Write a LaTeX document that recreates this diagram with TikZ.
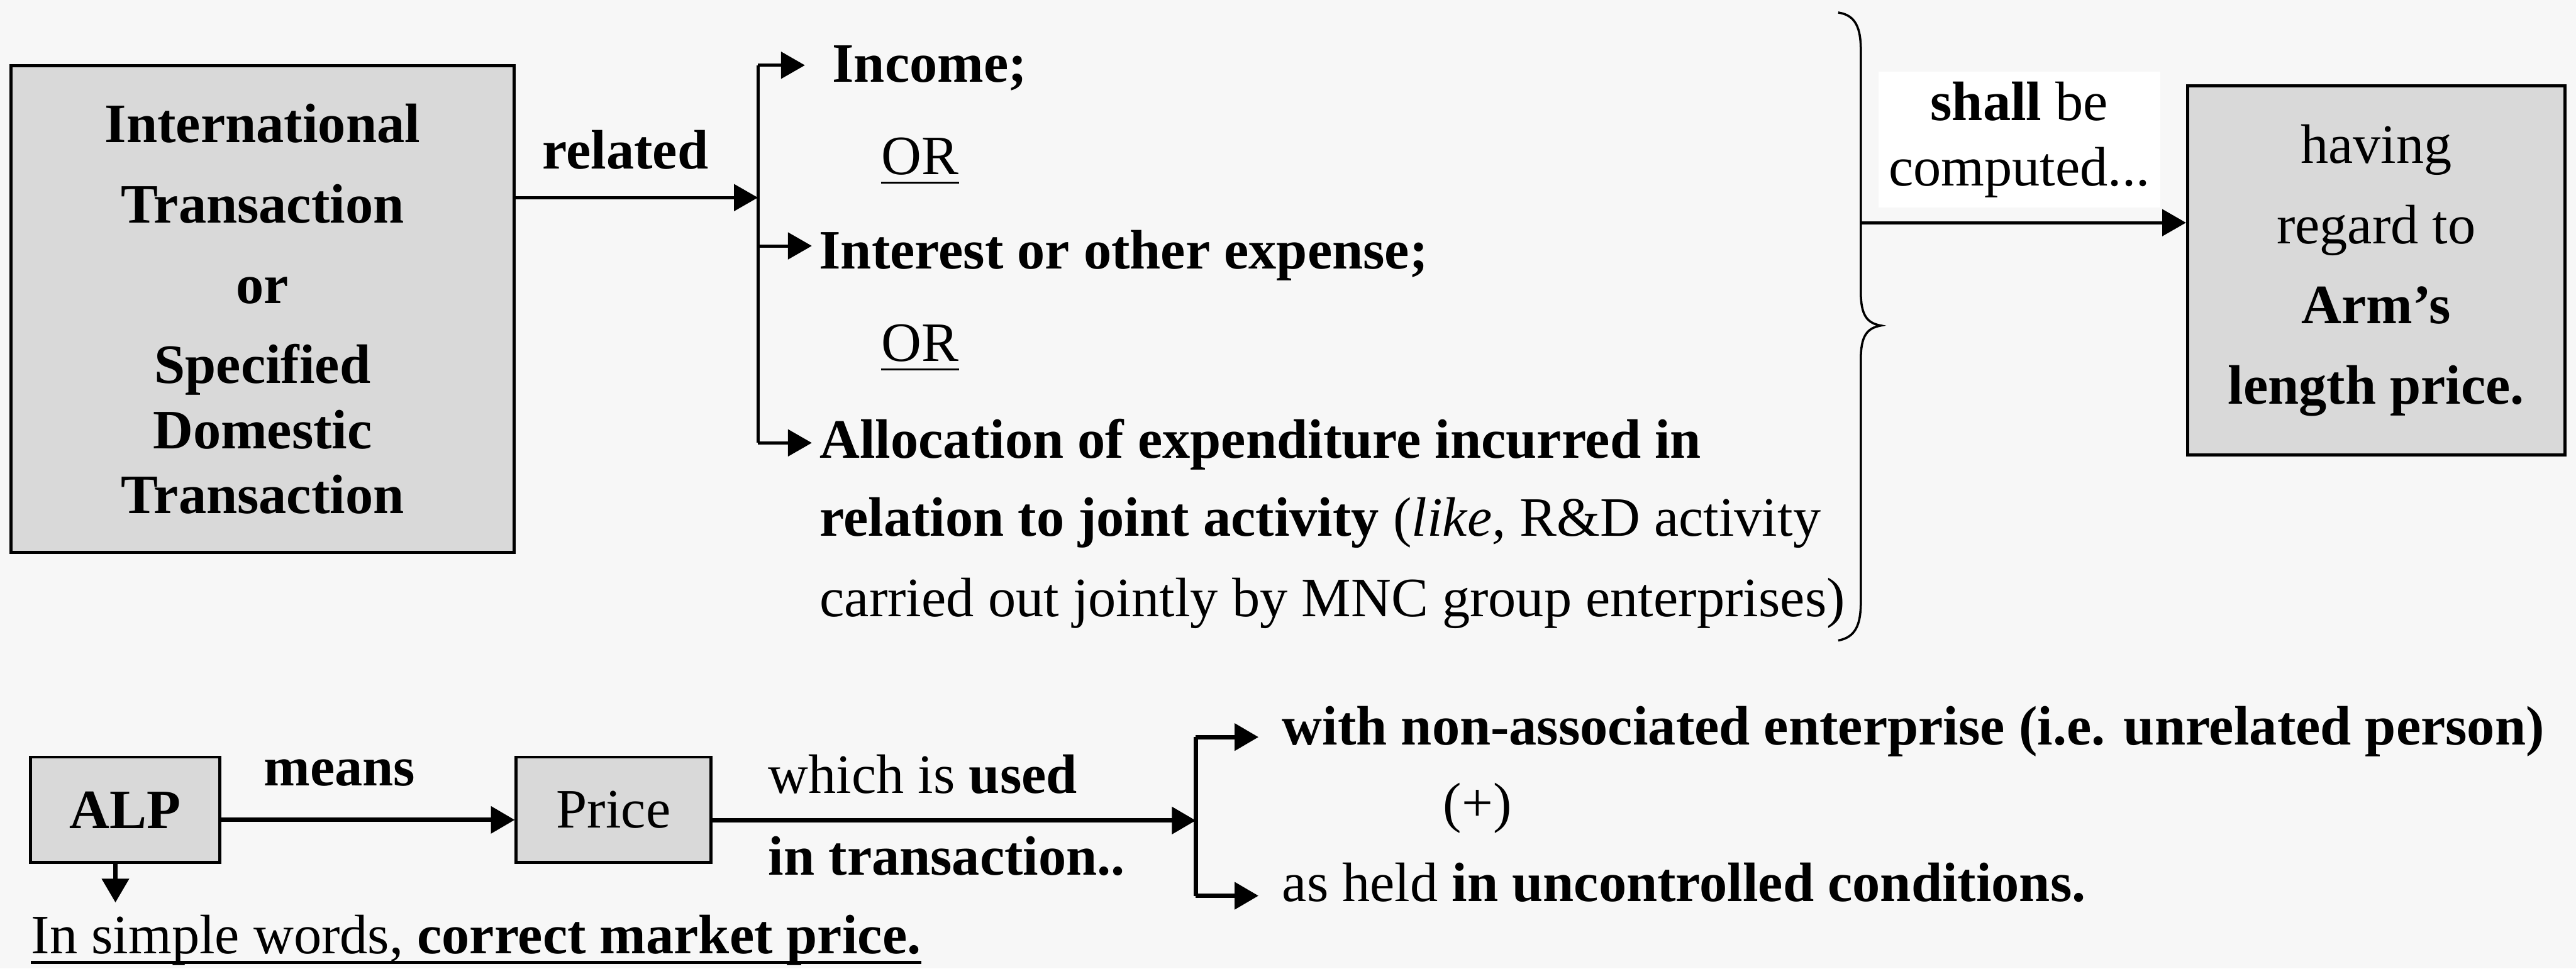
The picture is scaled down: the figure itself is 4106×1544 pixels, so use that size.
\documentclass[tikz,border=0pt]{standalone}
\usepackage{fontspec}
\setmainfont{Liberation Serif}
\usetikzlibrary{arrows.meta}

\definecolor{bgcol}{HTML}{F7F7F7}
\definecolor{boxcol}{HTML}{D9D9D9}

\begin{document}
\begin{tikzpicture}[x=0.01cm, y=-0.01cm,
  every node/.style={font=\fontsize{25.2}{36.4}\selectfont},
  graybox/.style={draw, line width=1.4pt, fill=boxcol, align=center, inner sep=0pt},
  txt/.style={inner sep=0pt, anchor=base west},
  arr/.style={line width=1.4pt, -{Triangle[length=10.8pt,width=12pt]}},
  arrb/.style={line width=2pt, -{Triangle[length=10.8pt,width=12pt]}},
  barline/.style={line width=1.4pt}]

  \fill[bgcol] (0,0) rectangle (4106,1544);
  \useasboundingbox (0,0) rectangle (4106,1544);

  %% upper part
  \node[graybox, minimum width=8.01cm, minimum height=7.75cm] (lbox) at (418.5,492.5)
    {\textbf{International}\\\textbf{Transaction}\\\textbf{or}\\\textbf{Specified}\\[-7pt]\textbf{Domestic}\\[-7pt]\textbf{Transaction}};
  \node[graybox, minimum width=6.01cm, minimum height=5.88cm] (rbox) at (3787.5,431)
    {having\\regard to\\\textbf{Arm’s}\\\textbf{length price.}};

  \coordinate (fork) at (1208,315);
  \coordinate (b1) at (1208,104);
  \coordinate (b2) at (1208,392);
  \coordinate (b3) at (1208,706);

  \draw[arr] (lbox.east |- fork) -- (fork);
  \node[anchor=base] (rel) at (997,269) {\textbf{related}};
  \draw[barline] (b1) -- (b3);

  \node[txt] (inc) at (1326,131) {\textbf{Income;}};
  \node[txt] (or1) at (1404,278) {OR};
  \node[txt] (intr) at (1305,429) {\textbf{Interest or other expense;}};
  \node[txt] (or2) at (1404,576) {OR};
  \node[txt] (alloc) at (1306,730) {\textbf{Allocation of expenditure incurred in}};
  \node[txt] (alloc2) at (1306,855) {\textbf{relation to joint activity} (\textit{like,} R\&D activity};
  \node[txt] (alloc3) at (1306,983) {carried out jointly by MNC group enterprises)};

  \draw[arr, shorten >=0.43cm] (b1) -- (b1 -| inc.west);
  \draw[arr, shorten >=0.11cm] (b2) -- (b2 -| intr.west);
  \draw[arr, shorten >=0.12cm] (b3) -- (b3 -| alloc.west);
  \draw[line width=1pt] ([yshift=-0.13cm]or1.base west) -- ([yshift=-0.13cm]or1.base east);
  \draw[line width=1pt] ([yshift=-0.13cm]or2.base west) -- ([yshift=-0.13cm]or2.base east);

  %% the brace
  \draw[line width=1pt] (2930,20) .. controls (2958,24) and (2966,45) .. (2966,80)
    -- (2966,465) .. controls (2966,503) and (2976,515) .. (2998,519)
    .. controls (2976,523) and (2966,535) .. (2966,573)
    -- (2966,960) .. controls (2966,995) and (2958,1016) .. (2930,1021);
  \coordinate (brc) at (2966,355);
  \draw[arr] (brc) -- (brc -| rbox.west);
  \node[fill=white, inner sep=0pt, minimum width=4.49cm, minimum height=2.17cm, align=center] (shall)
    at (3218.5,222.5) {\textbf{shall} be\\[-6.8pt]computed...};

  %% lower part
  \node[graybox, minimum width=3.01cm, minimum height=1.68cm] (alp) at (199.5,1291) {\textbf{ALP}};
  \node[graybox, minimum width=3.10cm, minimum height=1.68cm] (price) at (978,1291) {Price};
  \node[anchor=base] (means) at (541,1253) {\textbf{means}};
  \draw[arrb] ([yshift=-0.16cm]alp.east) -- ([yshift=-0.16cm]price.west);

  \node[txt] (used1) at (1224,1265) {which is \textbf{used}};
  \node[txt] (used2) at (1224,1395) {\textbf{in transaction..}};

  \coordinate (split) at (1906,1308);
  \coordinate (s1) at (1906,1175);
  \coordinate (s2) at (1906,1428);
  \draw[arrb] (price.east |- split) -- (split);
  \draw[line width=2pt] (s1) -- (s2);

  \node[txt] (nonassoc) at (2043,1187) {\textbf{with non-associated enterprise (i.e. unrelated person)}};
  \node[anchor=base] (plus) at (2355,1310) {(+)};
  \node[txt] (held) at (2043,1437) {as held \textbf{in uncontrolled conditions.}};
  \draw[arrb, shorten >=0.37cm] (s1) -- (s1 -| nonassoc.west);
  \draw[arrb, shorten >=0.37cm] (s2) -- (s2 -| held.west);

  \node[txt] (simple) at (49,1520) {In simple words, \textbf{correct market price.}};
  \draw[line width=1.4pt] ([yshift=-0.14cm]simple.base west) -- ([yshift=-0.14cm]simple.base east);
  \coordinate (alpdn) at ([xshift=-0.155cm]alp.south);
  \draw[arrb, shorten >=0.19cm] (alpdn) -- (alpdn |- simple.north);
\end{tikzpicture}
\end{document}
